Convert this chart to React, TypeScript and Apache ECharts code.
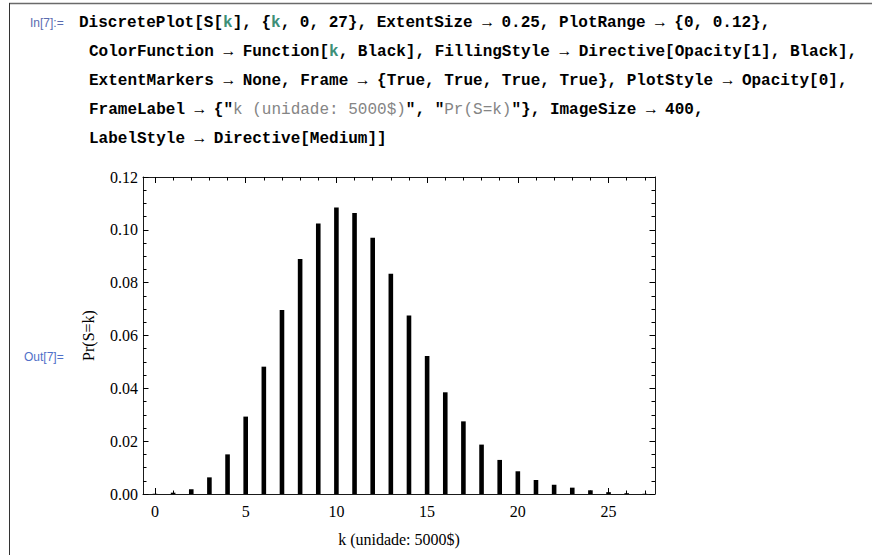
import React, { useEffect, useRef } from "react";
import * as echarts from "echarts";

// ---- data ----
const K_VALUES = [0, 1, 2, 3, 4, 5, 6, 7, 8, 9, 10, 11, 12, 13, 14, 15, 16, 17, 18, 19, 20, 21, 22, 23, 24, 25, 26, 27];
const PROBABILITIES = [
  0.0001, 0.0005, 0.0018, 0.0063, 0.015, 0.0293, 0.0482, 0.0697, 0.089, 0.1024,
  0.1085, 0.1064, 0.097, 0.0834, 0.0676, 0.0522, 0.0385, 0.0275, 0.0187, 0.0129,
  0.0086, 0.0053, 0.0035, 0.0024, 0.0014, 0.0007, 0.0003, 0.0001,
];
const X_MAJOR = [0, 5, 10, 15, 20, 25];
const X_MINOR = [1, 2, 3, 4, 6, 7, 8, 9, 11, 12, 13, 14, 16, 17, 18, 19, 21, 22, 23, 24, 26, 27];
const Y_MAJOR = [0, 0.02, 0.04, 0.06, 0.08, 0.1, 0.12];
const Y_MINOR = [0.005, 0.01, 0.015, 0.025, 0.03, 0.035, 0.045, 0.05, 0.055, 0.065, 0.07, 0.075, 0.085, 0.09, 0.095, 0.105, 0.11, 0.115];
const X_NAME = "k (unidade: 5000$)";
const Y_NAME = "Pr(S=k)";
const IN_LABEL = "In[7]:=";
const OUT_LABEL = "Out[7]=";
const CODE_LINES = [
  "DiscretePlot[S[{k|k}], {{k|k}, 0, 27}, ExtentSize → 0.25, PlotRange → {0, 0.12},",
  "ColorFunction → Function[{k|k}, Black], FillingStyle → Directive[Opacity[1], Black],",
  "ExtentMarkers → None, Frame → {True, True, True, True}, PlotStyle → Opacity[0],",
  'FrameLabel → {"{s|k (unidade: 5000$)}", "{s|Pr(S=k)}"}, ImageSize → 400,',
  "LabelStyle → Directive[Medium]]",
];

const X_MIN = -0.66;
const X_MAX = 27.56;

const SERIF = "'Liberation Serif', 'Times New Roman', serif";
const MONO = "'Liberation Mono', 'Courier New', monospace";
const SANS = "'Liberation Sans', Arial, sans-serif";

function xAxis(position: string, ticks: number[], len: number, main: boolean, labels: boolean) {
  return {
    type: "value",
    position,
    min: X_MIN,
    max: X_MAX,
    axisLine: { show: main, onZero: false, lineStyle: { color: "#1a1a1a", width: 1 } },
    axisTick: { show: true, inside: true, length: len, customValues: ticks, lineStyle: { color: "#000", width: 1 } },
    axisLabel: {
      show: labels,
      customValues: X_MAJOR,
      margin: 9,
      color: "#000",
      fontFamily: SERIF,
      fontSize: 16,
    },
    splitLine: { show: false },
    name: labels ? X_NAME : "",
    nameLocation: "middle",
    nameGap: 37,
    nameTextStyle: { color: "#000", fontFamily: SERIF, fontSize: 16 },
  };
}

function yAxis(position: string, ticks: number[], len: number, main: boolean, labels: boolean) {
  return {
    type: "value",
    position,
    min: 0,
    max: 0.12,
    axisLine: { show: main, onZero: false, lineStyle: { color: "#1a1a1a", width: 1 } },
    axisTick: { show: true, inside: true, length: len, customValues: ticks, lineStyle: { color: "#000", width: 1 } },
    axisLabel: {
      show: labels,
      customValues: Y_MAJOR,
      margin: 5,
      color: "#000",
      fontFamily: SERIF,
      fontSize: 16,
      formatter: (v: number) => v.toFixed(2),
    },
    splitLine: { show: false },
    name: labels ? Y_NAME : "",
    nameLocation: "middle",
    nameRotate: 90,
    nameGap: 47,
    nameTextStyle: { color: "#000", fontFamily: SERIF, fontSize: 16 },
  };
}

export default function App() {
  const ref = useRef<HTMLDivElement>(null);

  useEffect(() => {
    if (!ref.current) return;
    const chart = echarts.init(ref.current, null, { renderer: "svg" });

    const codeRich = {
      k: { fill: "#3d8f78", fontFamily: MONO, fontSize: 16, fontWeight: "bold" },
      s: { fill: "#858585", fontFamily: MONO, fontSize: 16, fontWeight: "normal" },
    };
    const lineX = [79, 89, 89, 89, 89];
    const lineY = [23, 52, 81, 110, 139];

    const graphic: any[] = [
      { type: "line", shape: { x1: 9, y1: 3.5, x2: 872, y2: 3.5 }, style: { stroke: "#6a6a6a", lineWidth: 1.5 }, silent: true },
      { type: "line", shape: { x1: 9.5, y1: 3, x2: 9.5, y2: 555 }, style: { stroke: "#333", lineWidth: 1 }, silent: true },
      {
        type: "text",
        x: 30,
        y: 23,
        style: { text: IN_LABEL, fill: "#5a6bb0", fontFamily: SANS, fontSize: 12, verticalAlign: "middle" },
        silent: true,
      },
      {
        type: "text",
        x: 24,
        y: 357,
        style: { text: OUT_LABEL, fill: "#4f70c8", fontFamily: SANS, fontSize: 12, verticalAlign: "middle" },
        silent: true,
      },
    ];
    CODE_LINES.forEach((t, i) => {
      graphic.push({
        type: "text",
        x: lineX[i],
        y: lineY[i],
        style: {
          text: t,
          fill: "#000",
          fontFamily: MONO,
          fontSize: 16,
          fontWeight: "bold",
          verticalAlign: "middle",
          rich: codeRich,
        },
        silent: true,
      });
    });

    chart.setOption({
      animation: false,
      backgroundColor: "#fff",
      grid: { left: 143, top: 177, width: 512, height: 317 },
      xAxis: [
        xAxis("bottom", X_MAJOR, 6, true, true),
        xAxis("bottom", X_MINOR, 3.5, false, false),
        xAxis("top", X_MAJOR, 6, true, false),
        xAxis("top", X_MINOR, 3.5, false, false),
      ],
      yAxis: [
        yAxis("left", Y_MAJOR, 5.5, true, true),
        yAxis("left", Y_MINOR, 3.5, false, false),
        yAxis("right", Y_MAJOR, 5.5, true, false),
        yAxis("right", Y_MINOR, 3.5, false, false),
      ],
      series: [
        {
          type: "bar",
          xAxisIndex: 0,
          yAxisIndex: 0,
          data: K_VALUES.map((k, i) => [k, PROBABILITIES[i]]),
          barWidth: 4.6,
          itemStyle: { color: "#000" },
          silent: true,
        },
      ],
      graphic,
    });

    return () => chart.dispose();
  }, []);

  return (
    <div
      ref={ref}
      style={{ position: "absolute", left: 0, top: 0, width: 872, height: 555, background: "#fff" }}
    />
  );
}
